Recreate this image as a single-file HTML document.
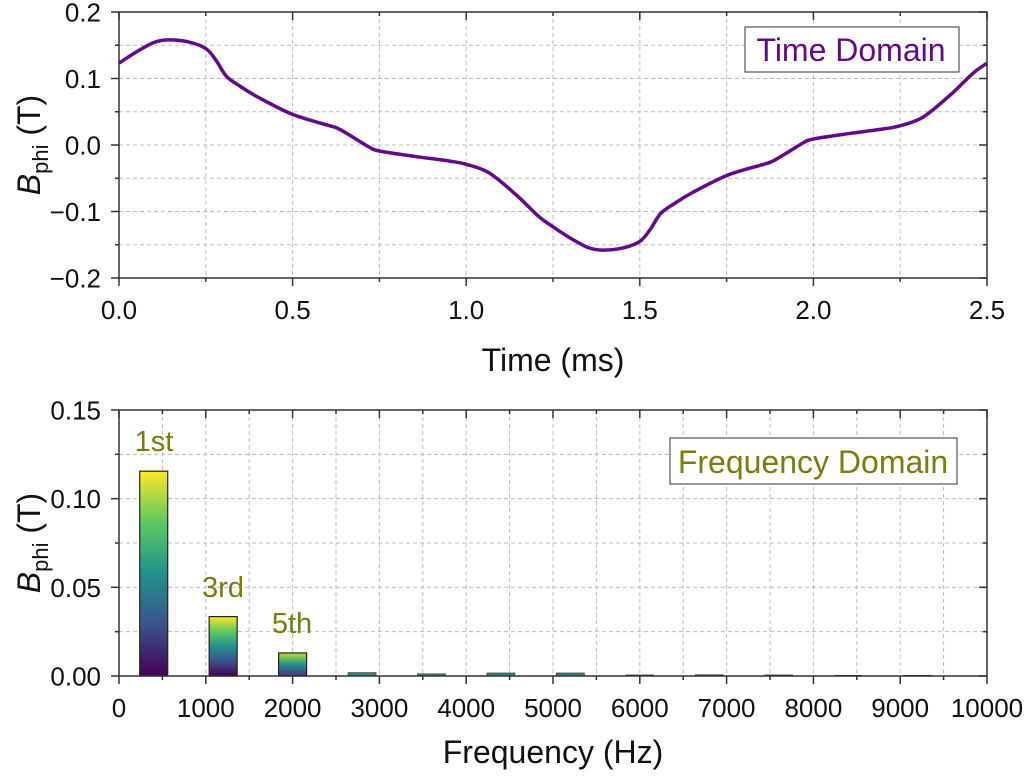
<!DOCTYPE html>
<html><head><meta charset="utf-8"><style>
html,body{margin:0;padding:0;background:#fff}
svg{display:block;font-family:"Liberation Sans",Arial,sans-serif}
</style></head><body>
<svg id="s" width="1025" height="777" xmlns="http://www.w3.org/2000/svg">
<defs>
<linearGradient id="vir" x1="0" y1="1" x2="0" y2="0">
<stop offset="0" stop-color="#440154"/><stop offset="0.25" stop-color="#3b528b"/>
<stop offset="0.5" stop-color="#21918c"/><stop offset="0.75" stop-color="#5ec962"/>
<stop offset="1" stop-color="#fde725"/></linearGradient>
<linearGradient id="vir5" x1="0" y1="1" x2="0" y2="0">
<stop offset="0" stop-color="#46337e"/><stop offset="0.5" stop-color="#21918c"/>
<stop offset="1" stop-color="#b5de2b"/></linearGradient>
</defs>
<g id="g"></g>
</svg>
<script>
var g=document.getElementById('g'),h='';
var L=119,R=987;
function ln(x1,y1,x2,y2,st){h+='<line x1="'+x1+'" y1="'+y1+'" x2="'+x2+'" y2="'+y2+'" '+st+'/>';}
var grid='stroke="#bbb" stroke-width="1" stroke-dasharray="4,3"';
var ax='stroke="#333" stroke-width="1.5"';
// ---------- Top plot
var T=12,B=278;
function ty(v){return T+(0.2-v)/0.4*(B-T);}
function tx(t){return L+t/2.5*(R-L);}
for(var v=-0.15;v<0.2;v+=0.05){ln(L,ty(v),R,ty(v),grid);}
for(var t=0.25;t<2.5;t+=0.25){ln(tx(t),T,tx(t),B,grid);}
h+='<rect x="'+L+'" y="'+T+'" width="'+(R-L)+'" height="'+(B-T)+'" fill="none" '+ax+'/>';
for(var i=0;i<=8;i++){var v=-0.2+i*0.05,y=ty(v),maj=i%2==0;
 ln(L-(maj?8:4),y,L,y,ax);ln(R-(maj?8:4),y,R,y,ax);
 if(maj)h+='<text x="'+(L-18)+'" y="'+(y+9.5)+'" font-size="26" text-anchor="end" fill="#111">'+(v<-1e-9?'\u2212':'')+Math.abs(v).toFixed(1)+'</text>';}
for(var i=0;i<=10;i++){var t=i*0.25,x=tx(t),maj=i%2==0;
 ln(x,B,x,B+(maj?8:4),ax);ln(x,T,x,T+(maj?8:4),ax);
 if(maj)h+='<text x="'+x+'" y="'+(B+41)+'" font-size="26" text-anchor="middle" fill="#111">'+t.toFixed(1)+'</text>';}
var P=[[0,.123],[.05,.140],[.1,.154],[.14,.158],[.2,.155],[.25,.145],[.28,.127],[.31,.103],[.35,.088],[.4,.072],[.5,.046],[.6,.03],[.63,.025],[.67,.013],[.72,-.003],[.75,-.009],[.85,-.017],[.95,-.024],[1.0,-.029],[1.066,-.042],[1.144,-.075],[1.21,-.108]];
var pts=P.slice();P.forEach(function(p){pts.push([p[0]+1.25,-p[1]]);});pts.push([2.5,.123]);
var xy=pts.map(function(p){return [tx(p[0]),ty(p[1])];});
var d='M'+xy[0][0]+','+xy[0][1];
for(var i=0;i<xy.length-1;i++){var p0=xy[Math.max(0,i-1)],p1=xy[i],p2=xy[i+1],p3=xy[Math.min(xy.length-1,i+2)];
 d+=' C'+(p1[0]+(p2[0]-p0[0])/6)+','+(p1[1]+(p2[1]-p0[1])/6)+' '+(p2[0]-(p3[0]-p1[0])/6)+','+(p2[1]-(p3[1]-p1[1])/6)+' '+p2[0]+','+p2[1];}
h+='<path d="'+d+'" fill="none" stroke="#620a8a" stroke-width="3.5"/>';
h+='<rect x="745" y="27" width="214" height="45" fill="#fff" stroke="#555" stroke-width="1.2"/>';
h+='<text x="851" y="61" font-size="32" text-anchor="middle" fill="#620a8a">Time Domain</text>';
h+='<text x="553" y="371" font-size="32" text-anchor="middle" fill="#111">Time (ms)</text>';
h+='<text transform="translate(40,145) rotate(-90)" font-size="32" text-anchor="middle" fill="#111"><tspan font-style="italic">B</tspan><tspan font-size="22" dy="8">phi</tspan><tspan dy="-8"> (T)</tspan></text>';
// ---------- Bottom plot
var T2=410,B2=676;
function by(v){return T2+(0.15-v)/0.15*(B2-T2);}
function bx(f){return L+f/10000*(R-L);}
for(var i=1;i<6;i++){ln(L,by(i*0.025),R,by(i*0.025),grid);}
for(var i=1;i<20;i++){ln(bx(i*500),T2,bx(i*500),B2,grid);}
var bars=[[400,.1155,'url(#vir)'],[1200,.0335,'url(#vir)'],[2000,.013,'url(#vir5)'],[2800,.0019,'#2a8a7a'],[3600,.0012,'#2a8a7a'],[4400,.0017,'#2a8a7a'],[5200,.0017,'#2a8a7a'],[6000,.0006,'#2a5a4a'],[6800,.0007,'#2a6a5a'],[7600,.0006,'#2a6a5a'],[8400,.0004,'#2a5a4a'],[9200,.0004,'#2a5a4a']];
bars.forEach(function(b){var x=bx(b[0])-14,y=by(b[1]);h+='<rect x="'+x+'" y="'+y+'" width="28" height="'+(B2-y)+'" fill="'+b[2]+'" stroke="#222" stroke-width="'+(b[1]>0.005?1.2:0.6)+'"/>';});
h+='<rect x="'+L+'" y="'+T2+'" width="'+(R-L)+'" height="'+(B2-T2)+'" fill="none" '+ax+'/>';
for(var i=0;i<=6;i++){var v=i*0.025,y=by(v),maj=i%2==0;
 ln(L-(maj?8:4),y,L,y,ax);ln(R-(maj?8:4),y,R,y,ax);
 if(maj)h+='<text x="'+(L-18)+'" y="'+(y+9.5)+'" font-size="26" text-anchor="end" fill="#111">'+v.toFixed(2)+'</text>';}
for(var i=0;i<=20;i++){var f=i*500,x=bx(f),maj=i%2==0;
 ln(x,B2,x,B2+(maj?8:4),ax);ln(x,T2,x,T2+(maj?8:4),ax);
 if(maj)h+='<text x="'+x+'" y="'+(B2+41)+'" font-size="26" text-anchor="middle" fill="#111">'+f+'</text>';}
h+='<text x="154" y="451" font-size="29" text-anchor="middle" fill="#7b7b10">1st</text>';
h+='<text x="223" y="597" font-size="29" text-anchor="middle" fill="#7b7b10">3rd</text>';
h+='<text x="292" y="633" font-size="29" text-anchor="middle" fill="#7b7b10">5th</text>';
h+='<rect x="670" y="438" width="287" height="46" fill="#fff" stroke="#555" stroke-width="1.2"/>';
h+='<text x="813" y="473" font-size="32" text-anchor="middle" fill="#7b7b10">Frequency Domain</text>';
h+='<text x="553" y="763" font-size="32" text-anchor="middle" fill="#111">Frequency (Hz)</text>';
h+='<text transform="translate(40,543) rotate(-90)" font-size="32" text-anchor="middle" fill="#111"><tspan font-style="italic">B</tspan><tspan font-size="22" dy="8">phi</tspan><tspan dy="-8"> (T)</tspan></text>';
g.innerHTML=h;
</script>
</body></html>
